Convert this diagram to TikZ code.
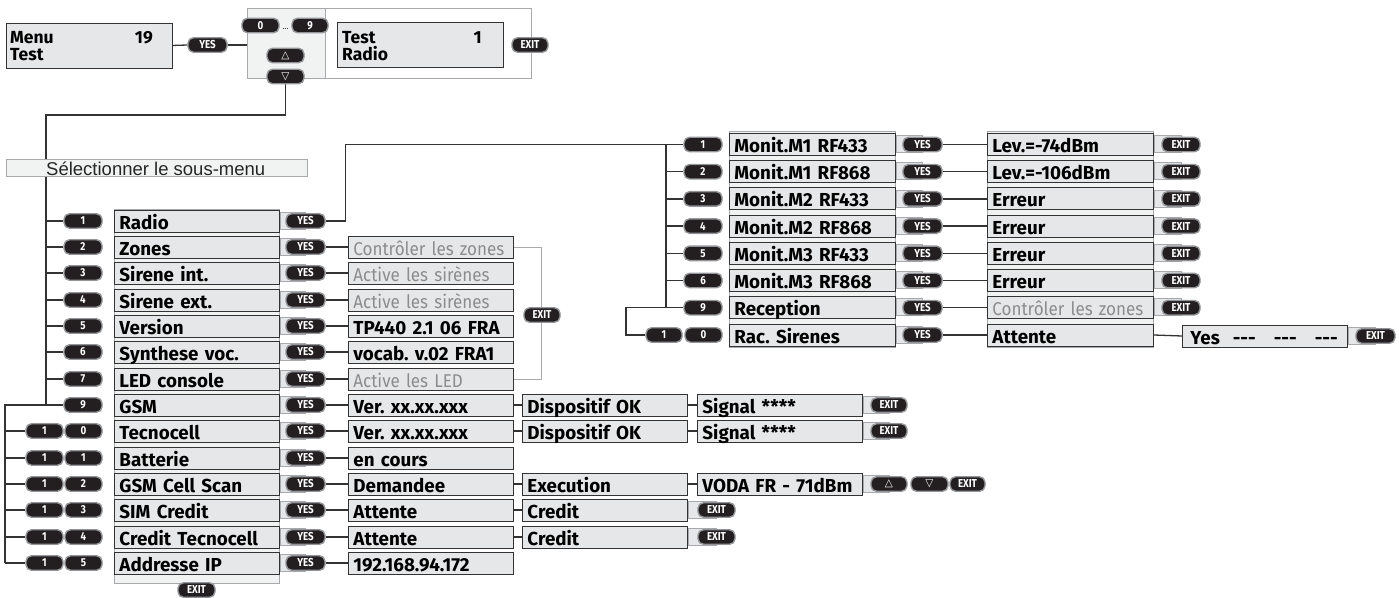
\documentclass[tikz,border=0pt]{standalone}
\usepackage{fontspec}
\newfontfamily\din{Fira Sans}
\newfontfamily\dinn[FakeStretch=0.92]{Fira Sans}
\newfontfamily\btnf[FakeStretch=0.85]{Fira Sans}
\newfontfamily\arialf{Liberation Sans}
\newfontfamily\symf{DejaVu Sans}
\usetikzlibrary{calc}
\pgfdeclarelayer{panel}
\pgfdeclarelayer{lines}
\pgfsetlayers{panel,lines,main}
\definecolor{boxfill}{HTML}{E6E7E8}
\definecolor{boxline}{HTML}{333333}
\definecolor{panelfill}{HTML}{F1F2F2}
\definecolor{panelline}{HTML}{A7A9AC}
\definecolor{graytext}{HTML}{8C8C8C}
\definecolor{keyfill}{HTML}{231F20}
\definecolor{keyring}{HTML}{939598}
\definecolor{linec}{HTML}{333333}
\tikzset{
  lbox/.style={draw=boxline, fill=boxfill, line width=0.9pt, text width=155pt, inner xsep=5pt, inner ysep=0pt,
    minimum height=22pt, text height=16pt, text depth=0pt, align=left, anchor=west,
    font=\din\bfseries\fontsize{18.8}{20}\selectfont\frenchspacing},
  gbox/.style={lbox, text=graytext, font=\dinn\fontsize{18.5}{20}\selectfont\frenchspacing},
  tbox/.style={draw=boxline, fill=boxfill, line width=0.9pt, inner sep=0pt, anchor=north west},
  ttext/.style={anchor=base west, inner sep=0pt, font=\din\bfseries\fontsize{17.5}{17.5}\selectfont},
  key/.style={draw=keyring, line width=1.4pt, fill=keyfill, rounded corners=5.5pt, minimum height=14.5pt,
    minimum width=37pt, inner sep=0pt, text=white, font=\btnf\bfseries\fontsize{11.5}{11.5}\selectfont},
  tri/.style={key, font=\symf\fontsize{10.5}{10.5}\selectfont},
  conn/.style={draw=linec, line width=1.3pt},
  gconn/.style={draw=panelline, line width=1pt},
  panelbox/.style={draw=panelline, fill=panelfill, line width=0.8pt, inner sep=0pt, anchor=north west},
  tab/.style={draw=panelline, fill=boxfill, line width=0.6pt}
}
\begin{document}
\begin{tikzpicture}[x=1pt,y=-1pt]
\useasboundingbox (0,0) rectangle (1399,597);

% ---------- panels ----------
\begin{pgfonlayer}{panel}
\node[panelbox, fill=white, minimum width=284pt, minimum height=70pt] (pan) at (247,8) {};
\node[panelbox, minimum width=78pt, minimum height=70pt] (panL) at (247,8) {};
\node[panelbox, minimum width=165pt, minimum height=374pt] (lpanel) at (114,209) {};
\node[panelbox, minimum width=166pt, minimum height=216pt] (rpanel) at (729,131) {};
\node[panelbox, minimum width=166pt, minimum height=216pt] (rrpanel) at (987,131) {};
\end{pgfonlayer}

% ---------- top part ----------
\node[tbox, minimum width=166pt, minimum height=45pt] (menu) at (6,22.5) {};
\node[ttext] at ($(menu.north west)+(4,20.5)$) {Menu};
\node[ttext] at ($(menu.north west)+(4,37.5)$) {Test};
\node[ttext, anchor=base east] at ($(menu.north west)+(147,20.5)$) {19};
\node[key, minimum width=39pt] (yes0) at (207.5,45) {YES};
\node[key] (k0) at (260.5,25.5) {0};
\node[key, minimum width=36pt] (k9top) at (310,25.5) {9};
\node[font=\fontsize{10}{10}\selectfont, inner sep=0pt] (dots) at (285.5,29) {\dots};
\node[tri] (up) at (285.5,55.5) {△};
\node[tri] (dn) at (285.5,76.5) {▽};
\node[tbox, minimum width=166pt, minimum height=45pt] (testbox) at (337,22) {};
\node[ttext] at ($(testbox.north west)+(5,21)$) {Test};
\node[ttext] at ($(testbox.north west)+(5,38)$) {Radio};
\node[ttext, anchor=base east] at ($(testbox.north west)+(145,21)$) {1};
\node[key, minimum width=36pt] (exit0) at (530,45) {EXIT};

\node[draw=panelline, fill=panelfill, line width=0.8pt, minimum width=301pt, minimum height=17pt, inner sep=0pt, anchor=north west] (sel) at (6,159) {};
\node[anchor=base west, inner sep=0pt, font=\arialf\fontsize{18.5}{18.5}\selectfont, text=black!85] at (46,175) {Sélectionner le sous-menu};

% ---------- left column ----------
\foreach \i/\yy/\k/\t in {1/221/1/Radio, 2/247/2/Zones, 3/273/3/Sirene int., 4/300/4/Sirene ext.,
    5/326/5/Version, 6/352/6/Synthese voc., 7/379/7/LED console, 9/405/9/GSM}{
  \node[key, minimum width=38pt] (k\i) at (83,\yy) {\k};
  \node[lbox] (n\i) at (114,\yy) {\t};
  \node[key, minimum width=39pt] (y\i) at (305.5,\yy) {YES};
}
\foreach \i/\yy/\k/\t in {10/431/0/Tecnocell, 11/458/1/Batterie, 12/484/2/GSM Cell Scan,
    13/510/3/SIM Credit, 14/537/4/Credit Tecnocell, 15/563/5/Addresse IP}{
  \node[key] (ka\i) at (44.5,\yy) {1};
  \node[key] (k\i) at (83.5,\yy) {\k};
  \node[lbox] (n\i) at (114,\yy) {\t};
  \node[key, minimum width=39pt] (y\i) at (305.5,\yy) {YES};
}
\foreach \i/\yy/\s/\t in {2/247/gbox/Contrôler les zones, 3/273/gbox/Active les sirènes,
    4/300/gbox/Active les sirènes, 5/326/lbox/TP440 2.1 06 FRA, 6/352/lbox/vocab. v.02 FRA1,
    7/379/gbox/Active les LED, 9/405/lbox/Ver. xx.xx.xxx, 10/431/lbox/Ver. xx.xx.xxx,
    11/458/lbox/en cours, 12/484/lbox/Demandee, 13/510/lbox/Attente, 14/537/lbox/Attente,
    15/563/lbox/192.168.94.172}{
  \node[\s] (r\i) at (348,\yy) {\t};
}
\foreach \i/\yy/\t in {9/405/Dispositif OK, 10/431/Dispositif OK, 12/484/Execution, 13/510/Credit, 14/537/Credit}{
  \node[lbox] (c\i) at (522,\yy) {\t};
}
\foreach \i/\yy/\t in {9/405/Signal ****, 10/431/Signal ****, 12/484/VODA FR - 71dBm}{
  \node[lbox] (d\i) at (697,\yy) {\t};
}
\node[key, minimum width=36pt] (e9) at (889,405) {EXIT};
\node[key, minimum width=36pt] (e10) at (889,431) {EXIT};
\node[tri, minimum width=36pt] (up12) at (889,484) {△};
\node[tri, minimum width=37pt] (dn12) at (929.5,484) {▽};
\node[key, minimum width=35pt] (e12) at (967.5,484) {EXIT};
\node[key, minimum width=37pt] (e13) at (716.5,510) {EXIT};
\node[key, minimum width=37pt] (e14) at (716.5,537) {EXIT};
\node[key, minimum width=36pt] (exitz) at (542,315) {EXIT};
\node[key, minimum width=37pt] (exitb) at (196.5,590) {EXIT};

% ---------- right column ----------
\foreach \i/\yy/\t/\r/\s in {1/144.5/Monit.M1 RF433/Lev.=-74dBm/lbox, 2/171.7/Monit.M1 RF868/Lev.=-106dBm/lbox,
    3/198.9/Monit.M2 RF433/Erreur/lbox, 4/226.1/Monit.M2 RF868/Erreur/lbox,
    5/253.3/Monit.M3 RF433/Erreur/lbox, 6/280.5/Monit.M3 RF868/Erreur/lbox,
    9/307.7/Reception/Contrôler les zones/gbox}{
  \node[key, minimum width=38pt] (rk\i) at (703,\yy) {\i};
  \node[lbox, text width=156pt] (rn\i) at (729,\yy) {\t};
  \node[key, minimum width=39pt] (ry\i) at (922.5,\yy) {YES};
  \node[\s, text width=156pt] (rr\i) at (987,\yy) {\r};
  \node[key, minimum width=38pt] (re\i) at (1181,\yy) {EXIT};
}
\node[key, minimum width=36pt] (rka10) at (664,335) {1};
\node[key] (rk10) at (703.5,335) {0};
\node[lbox, text width=156pt] (rn10) at (729,335) {Rac. Sirenes};
\node[key, minimum width=39pt] (ry10) at (922.5,335) {YES};
\node[lbox, text width=156pt] (rr10) at (987,335) {Attente};
\node[lbox, text width=155pt] (yesbox) at (1182,336) {\hspace{3pt}Yes\hspace{13pt}-{}-{}-\hspace{18pt}-{}-{}-\hspace{18pt}-{}-{}-};
\node[key, minimum width=39pt] (re10) at (1375.5,336) {EXIT};

% ---------- tabs behind buttons ----------
\begin{pgfonlayer}{panel}
\foreach \a/\b in {n1/y1,n2/y2,n3/y3,n4/y4,n5/y5,n6/y6,n7/y7,n9/y9,n10/y10,n11/y11,n12/y12,n13/y13,n14/y14,n15/y15,
    rn1/ry1,rn2/ry2,rn3/ry3,rn4/ry4,rn5/ry5,rn6/ry6,rn9/ry9,rn10/ry10,
    rr1/re1,rr2/re2,rr3/re3,rr4/re4,rr5/re5,rr6/re6,rr9/re9,yesbox/re10,
    d9/e9,d10/e10,d12/up12,c13/e13,c14/e14}{
  \filldraw[tab] ($(\a.east)+(0,-9)$) rectangle ($(\b.center)+(0,8)$);
}
\end{pgfonlayer}

% ---------- connectors ----------
\begin{pgfonlayer}{lines}
\draw[conn] (menu.east) -- (yes0.west);
\draw[conn] (yes0.east) -- (yes0.east -| panL.west);
\coordinate (ltA) at (46,115);
\coordinate (ltB) at (5,0);
\draw[conn] (dn.south) |- (ltA) -- (ltA |- k9.west);
\foreach \i in {1,2,3,4,5,6,7,9}{
  \draw[conn] (k\i.west) -- (ltA |- k\i.west);
}
\draw[conn] (ltA |- k9.west) -- (ltB |- k9.west) -- (ltB |- ka15.west);
\foreach \i in {10,...,15}{
  \draw[conn] (ka\i.west) -- (ltB |- ka\i.west);
}
\foreach \i in {2,3,4,5,6,7,9,10,11,12,13,14,15}{
  \draw[conn] (y\i.east) -- (r\i.west);
}
\foreach \i in {9,10,12,13,14}{
  \draw[conn] (r\i.east) -- (c\i.west);
}
\foreach \i in {9,10,12}{
  \draw[conn] (c\i.east) -- (d\i.west);
}
\draw[gconn] (r2.east) -- ++(28,0) |- (r7.east);
% right
\coordinate (rtA) at (666,0);
\coordinate (rtB) at (626,0);
\draw[conn] (y1.east) -- ++(20,0) |- (rk1.west);
\draw[conn] (rtA |- rk1.west) -- (rtA |- rk9.west);
\foreach \i in {2,...,6}{
  \draw[conn] (rk\i.west) -- (rtA |- rk\i.west);
}
\draw[conn] (rk9.west) -- (rtB |- rk9.west) -- (rtB |- rka10.west) -- (rka10.west);
\foreach \i in {1,2,3,4,5,6,9,10}{
  \draw[conn] (ry\i.east) -- (rr\i.west);
}
\draw[conn] (rr10.east) -- (yesbox.west);
\end{pgfonlayer}
\end{tikzpicture}
\end{document}
